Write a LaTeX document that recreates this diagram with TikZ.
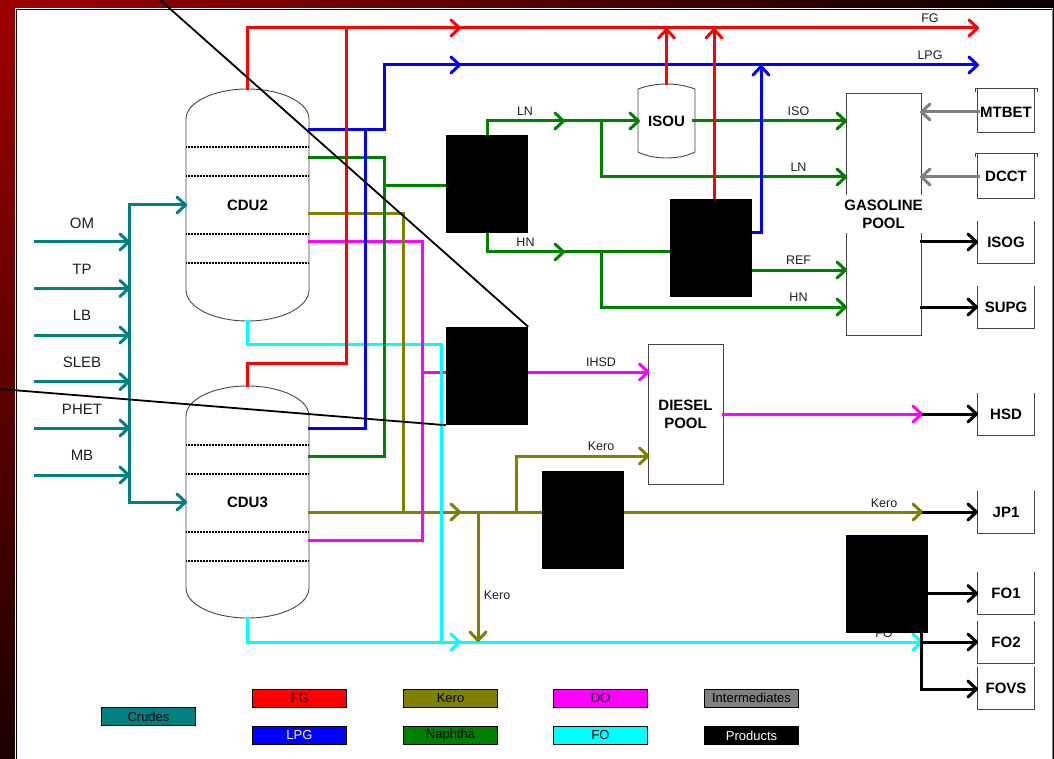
\documentclass[tikz,border=0pt]{standalone}
\usepackage{fontspec}
\setmainfont{Liberation Sans}
\usetikzlibrary{arrows.meta}
\definecolor{cteal}{RGB}{0,128,128}
\definecolor{cgreen}{RGB}{0,128,0}
\definecolor{colive}{RGB}{128,128,0}
\definecolor{cink}{RGB}{30,30,30}
\definecolor{cedge}{RGB}{70,70,70}
\definecolor{cmag}{RGB}{255,0,255}
\definecolor{ccyan}{RGB}{0,255,255}
\definecolor{cred}{RGB}{255,0,0}
\definecolor{cblue}{RGB}{0,0,255}
\definecolor{cgrey}{RGB}{128,128,128}
\tikzset{
  >={Straight Barb[length=8.5pt,width=16pt,line width=3pt,round]},
  flow/.style={line width=3pt,line cap=rect,line join=miter},
  rl/.style={flow,color=cred}, bl/.style={flow,color=cblue}, gl/.style={flow,color=cgreen},
  ol/.style={flow,color=colive}, ml/.style={flow,color=cmag}, cl/.style={flow,color=ccyan},
  tl/.style={flow,color=cteal}, kl/.style={flow,color=black}, yl/.style={flow,color=cgrey},
  lab/.style={font=\fontsize{12.5}{14}\selectfont,text=cink,fill=white,inner sep=0.5pt},
  crude/.style={font=\fontsize{15}{17}\selectfont,text=cink,inner sep=0pt},
  bold/.style={font=\fontsize{15}{18}\selectfont\bfseries,text=black,inner sep=0pt,align=center},
  outline/.style={draw=cedge,line width=0.9pt},
  vessel/.style={draw=cedge,line width=0.9pt},
  tray/.style={draw=black,line width=1.1pt,dash pattern=on 1pt off 0.5pt},
  poolbox/.style={outline,fill=white,inner sep=0pt},
  hold/.style={inner sep=0pt,font=\fontsize{15}{18}\selectfont\bfseries},
  hidebox/.style={fill=black,inner sep=0pt,minimum width=82pt,minimum height=98pt},
  legend/.style={draw=black,line width=0.9pt,minimum width=94pt,minimum height=18pt,inner sep=0pt,font=\fontsize{13}{15}\selectfont,text=black},
  diag/.style={draw=black,line width=1.8pt}
}
\begin{document}
\begin{tikzpicture}[x=1pt,y=-1pt]
\useasboundingbox (0,0) rectangle (1054,759);
% frame
\fill[black] (0,0) rectangle (1054,759);
\shade[left color={rgb,255:red,160;green,0;blue,0},right color={rgb,255:red,8;green,0;blue,0}] (0,0) rectangle (1054,9);
\shade[top color={rgb,255:red,160;green,0;blue,0},bottom color={rgb,255:red,28;green,0;blue,0}] (0,0) rectangle (15,759);
\fill[white] (15,8) rectangle (1053,759);
\draw[black,line width=0.8pt] (16.5,761) -- (16.5,9.5) -- (1052.5,9.5);
\draw[cgrey,line width=1pt] (1052.5,9.5) -- (1052.5,759);

% nodes carrying the text of the equipment
\node[hold,minimum width=123pt,minimum height=232pt] (cdu2) at (247.5,205) {CDU2};
\node[hold,minimum width=123pt,minimum height=232pt] (cdu3) at (247.5,502) {CDU3};
\node[hold,minimum width=57pt,minimum height=74pt] (isou) at (666.5,121) {ISOU};
\node[poolbox,minimum width=75pt,minimum height=242pt] (gaspool) at (883.5,214) {};
\node[poolbox,minimum width=75pt,minimum height=140pt] (dieselpool) at (685.5,414) {};
\node[hold,minimum width=57pt,minimum height=44pt] (mtbet) at (1006,112) {MTBET};
\node[hold,minimum width=57pt,minimum height=44pt] (dcct) at (1006,176.5) {DCCT};
\node[hold,minimum width=57pt,minimum height=42pt] (isog) at (1006,242) {ISOG};
\node[hold,minimum width=57pt,minimum height=42pt] (supg) at (1006,307) {SUPG};
\node[hold,minimum width=57pt,minimum height=42pt] (hsd) at (1006,414) {HSD};
\node[hold,minimum width=57pt,minimum height=42pt] (jp1) at (1006,512) {JP1};
\node[hold,minimum width=57pt,minimum height=42pt] (fo1) at (1006,593) {FO1};
\node[hold,minimum width=57pt,minimum height=42pt] (fo2) at (1006,642) {FO2};
\node[hold,minimum width=57pt,minimum height=42pt] (fovs) at (1006,688.5) {FOVS};

% vessels
\draw[vessel] (186,119) .. controls (186,102.4) and (213.5,89) .. (247.5,89) .. controls (281.5,89) and (309,102.4) .. (309,119) -- (309,290) .. controls (309,307.1) and (281.5,321) .. (247.5,321) .. controls (213.5,321) and (186,307.1) .. (186,290) -- cycle;
\draw[vessel] (186,416) .. controls (186,399.4) and (213.5,386) .. (247.5,386) .. controls (281.5,386) and (309,399.4) .. (309,416) -- (309,588) .. controls (309,604.6) and (281.5,618) .. (247.5,618) .. controls (213.5,618) and (186,604.6) .. (186,588) -- cycle;
\foreach \yy in {147,176,234,263,445,474,532,561} \draw[tray] (186,\yy) -- (309,\yy);
\draw[vessel] (638,89) .. controls (646,86) and (656,84) .. (666.5,84) .. controls (677,84) and (687,86) .. (695,89) -- (695,152) .. controls (687,156) and (677,158) .. (666.5,158) .. controls (656,158) and (646,156) .. (638,152) -- cycle;
% tanks
\draw[outline] (975,92) -- (975,88.5) -- (1037,88.5) -- (1037,92);
\draw[outline] (977.5,89) -- (977.5,132.7) -- (1034.5,132.7) -- (1034.5,89);
\draw[outline] (975,157) -- (975,153.7) -- (1037,153.7) -- (1037,157);
\draw[outline] (977.5,154) -- (977.5,198) -- (1034.5,198) -- (1034.5,154);
\foreach \nn in {isog,supg,hsd,jp1,fo1,fo2,fovs}
  \draw[outline] (\nn.north west) -- (\nn.south west) -- (\nn.south east) -- (\nn.north east);

% junctions
\foreach \nm/\xx/\yy in {
 rA/247.5/28,rB/346.5/28,rM/461/28,rE/979/28,rC/247.5/363,rD/346.5/363,rI/666.5/28,rJ/714/28,rK/714/199,
 bA/309/130,bB/384/130,bC/384/65,bM/461/65,bE/979/65,bD/365/130,bF/365/428,bG/309/428,bH/752/233,bI/761/233,bJ/761/65,
 gA/309/158,gB/384/158,gC/384/456,gD/309/456,gE/384/186,gF/446/186,gG/487/135,gH/487/121,gM/565/121,gI/640/121,
 gJ/601/121,gK/601/177,gL/847/177,gN/693/121,gO/847/121,gP/487/233,gQ/487/252,gR/565/252,gS/670/252,gT/601/252,gU/601/307,gV/847/307,gW/752/270,gX/847/270,
 oA/309/214,oB/403/214,oC/403/512,oD/309/512,oM/461/512,oE/542/512,oF/478/512,oG/478/642,oH/516/512,oI/516/456,oJ/649.5/456,oK/624/512,oL/923/512,
 mA/309/242,mB/422/242,mC/422/540,mD/309/540,mE/422/372,mF/446/372,mG/528/372,mH/649.5/372,mI/723/414,mJ/923/414,
 cB/247.5/344,cC/441/344,cD/441/642,cF/247.5/642,cM/461/642,cG/923/642,
 tA/129/205,tB/187/205,tC/129/502,tD/187/502,
 yA/978/112,yB/920/112,yC/978/177,yD/920/177,
 kA/921/242,kB/978/242,kC/921/307,kD/978/307,kE/923/414,kF/978/414,kG/923/512,kH/978/512,kI/928/593.5,kJ/978/593.5,kK/921/642,kL/978/642,kM/921/633,kN/921/689,kO/978/689,
 s1/35/242,s1e/130/242,s2/35/288.5,s2e/130/288.5,s3/35/335,s3e/130/335,s4/35/381.7,s4e/130/381.7,s5/35/428,s5e/130/428,s6/35/475,s6e/130/475,
 dA/159/-1,dB/0/389}
  \coordinate (\nm) at (\xx,\yy);

% horizontal runs (under the vertical ones)
\draw[rl,->] (rA) -- (rM); \draw[rl,->] (rM) -- (rE); \draw[rl] (rC) -- (rD);
\draw[bl] (bA) -- (bB); \draw[bl,->] (bC) -- (bM); \draw[bl,->] (bM) -- (bE); \draw[bl] (bG) -- (bF); \draw[bl] (bH) -- (bI);
\draw[gl] (gA) -- (gB); \draw[gl] (gE) -- (gF); \draw[gl] (gD) -- (gC);
\draw[gl,->] (gH) -- (gM); \draw[gl,->] (gM) -- (gI); \draw[gl,->] (gN) -- (gO); \draw[gl,->] (gK) -- (gL);
\draw[gl,->] (gQ) -- (gR); \draw[gl] (gR) -- (gS); \draw[gl,->] (gU) -- (gV); \draw[gl,->] (gW) -- (gX);
\draw[ol] (oA) -- (oB); \draw[ol,->] (oD) -- (oM); \draw[ol] (oM) -- (oE); \draw[ol,->] (oI) -- (oJ); \draw[ol,->] (oK) -- (oL);
\draw[ml] (mA) -- (mB); \draw[ml] (mD) -- (mC); \draw[ml] (mE) -- (mF); \draw[ml,->] (mG) -- (mH); \draw[ml,->] (mI) -- (mJ);
\draw[cl] (cB) -- (cC); \draw[cl,->] (cF) -- (cM); \draw[cl,->] (cM) -- (cG);
\draw[tl,->] (tA) -- (tB); \draw[tl,->] (tC) -- (tD);
\foreach \i in {1,...,6} \draw[tl,->] (s\i) -- (s\i e);
\draw[yl,->] (yA) -- (yB); \draw[yl,->] (yC) -- (yD);
\draw[kl,->] (kA) -- (kB); \draw[kl,->] (kC) -- (kD); \draw[kl,->] (kE) -- (kF); \draw[kl,->] (kG) -- (kH);
\draw[kl,->] (kI) -- (kJ); \draw[kl,->] (kK) -- (kL); \draw[kl,->] (kN) -- (kO);

% vertical runs
\draw[rl] (cdu2.north) -- (rA); \draw[rl] (rB) -- (rD); \draw[rl] (rC) -- (cdu3.north);
\draw[rl,->] (isou.north) -- (rI); \draw[rl,->] (rK) -- (rJ);
\draw[bl] (bB) -- (bC); \draw[bl] (bD) -- (bF); \draw[bl,->] (bI) -- (bJ);
\draw[gl] (gB) -- (gC); \draw[gl] (gG) -- (gH); \draw[gl] (gJ) -- (gK); \draw[gl] (gP) -- (gQ); \draw[gl] (gT) -- (gU);
\draw[ol] (oB) -- (oC); \draw[ol] (oH) -- (oI); \draw[ol,->] (oF) -- (oG);
\draw[ml] (mB) -- (mC);
\draw[cl] (cdu2.south) -- (cB); \draw[cl] (cC) -- (cD); \draw[cl] (cdu3.south) -- (cF);
\draw[tl] (tA) -- (tC);
\draw[kl] (kM) -- (kN);

% flow labels
\node[lab] (lFG) at (930,18.5) {FG};
\node[lab] (lLPG) at (930,55) {LPG};
\node[lab] (lISO) at (798.5,111) {ISO};
\node[lab] (lLN) at (798.5,167) {LN};
\node[lab] (lREF) at (798.5,260) {REF};
\node[lab] (lHN) at (798.5,297) {HN};
\node[lab] (lLN2) at (525,111) {LN};
\node[lab] (lHN2) at (525.5,242) {HN};
\node[lab] (lIHSD) at (601,362) {IHSD};
\node[lab] (lK1) at (601,446) {Kero};
\node[lab] (lK2) at (497,595.5) {Kero};
\node[lab] (lK3) at (884,503) {Kero};
\node[lab] (lFO) at (884,633) {FO};
\node[crude] (iOM) at (82,223) {OM};
\node[crude] (iTP) at (82,269.5) {TP};
\node[crude] (iLB) at (82,315.5) {LB};
\node[crude] (iSLEB) at (82,362.5) {SLEB};
\node[crude] (iPHET) at (82,409) {PHET};
\node[crude] (iMB) at (82,455.5) {MB};

% pool texts
\node[bold,fill=white,inner ysep=1pt,inner xsep=1pt,minimum height=38pt] (gastext) at (883.5,214) {GASOLINE\\POOL};
\node[bold] (dieseltext) at (685.5,414) {DIESEL\\POOL};

% hidden units
\node[hidebox] (u1) at (487,184) {};
\node[hidebox] (u2) at (711,248) {};
\node[hidebox] (u4) at (487,376) {};
\node[hidebox] (u3) at (583,520) {};
\node[hidebox] (u5) at (887,584) {};

% long diagonals
\draw[diag] (dA) -- (u4.north east);
\draw[diag] (dB) -- (u4.south west);

% legend
\node[legend,fill=cteal] (k1) at (148.5,716.5) {Crudes};
\node[legend,fill=cred] (k2) at (299.5,698) {FG};
\node[legend,fill=cblue,text=white] (k3) at (299.5,735.5) {LPG};
\node[legend,fill=colive] (k4) at (450.5,698) {Kero};
\node[legend,fill=cgreen] (k5) at (450.5,735.5) {Naphtha};
\node[legend,fill=cmag] (k6) at (600.5,698) {DO};
\node[legend,fill=ccyan] (k7) at (600.5,735.5) {FO};
\node[legend,fill=cgrey] (k8) at (751.5,698) {Intermediates};
\node[legend,fill=black,text=white] (k9) at (751.5,735.5) {Products};
\end{tikzpicture}
\end{document}
